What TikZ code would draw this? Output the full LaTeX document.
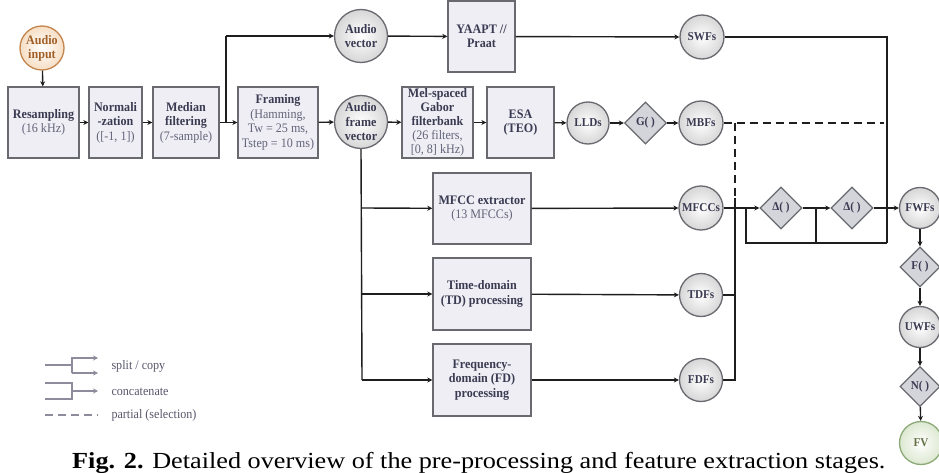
\documentclass[tikz,border=0pt]{standalone}
\usepackage{fontspec}
\setmainfont{Liberation Serif}
\newfontfamily\labfont[FakeStretch=0.93]{Liberation Serif}
\newfontfamily\capfont[FakeStretch=1.14]{Liberation Serif}
\usetikzlibrary{arrows.meta,shapes.geometric,shadows}
\definecolor{lblc}{RGB}{58,58,82}
\definecolor{subc}{RGB}{100,100,122}
\definecolor{edgec}{RGB}{105,105,112}
\definecolor{boxfill}{RGB}{238,238,244}
\definecolor{diafill}{RGB}{212,212,219}
\definecolor{linec}{RGB}{30,30,30}
\definecolor{legc}{RGB}{140,140,156}
\definecolor{orgedge}{RGB}{196,134,78}
\definecolor{orgfill}{RGB}{246,222,196}
\definecolor{orgtext}{RGB}{160,96,40}
\definecolor{grnedge}{RGB}{140,170,120}
\definecolor{grnfill}{RGB}{220,232,208}
\definecolor{grntext}{RGB}{100,115,70}
\newcommand\mysub[1]{{\mdseries\color{subc}#1}}
\tikzset{
  lab/.style={font=\labfont\bfseries\fontsize{13}{14.5}\selectfont, text=lblc, align=center},
  procbox/.style={lab, rectangle, draw=edgec, line width=1.4pt, fill=boxfill, inner sep=1pt,
     drop shadow={opacity=0.25, shadow xshift=1pt, shadow yshift=-1pt}},
  datac/.style={lab, circle, draw=edgec, line width=1.3pt, inner sep=0pt,
     inner color=white, outer color=gray!32, font=\labfont\bfseries\fontsize{12}{13}\selectfont},
  opdia/.style={lab, diamond, aspect=1, draw=edgec, line width=1.3pt, fill=diafill, inner sep=0pt,
     font=\labfont\bfseries\fontsize{12}{13}\selectfont},
  conn/.style={draw=linec, line width=1.4pt},
  arr/.style={conn, -{Stealth[length=5pt,width=5pt]}},
  legl/.style={draw=legc, line width=1.3pt},
  legarr/.style={legl, -{Stealth[length=5pt,width=5pt]}},
  legtext/.style={font=\labfont\fontsize{13}{14}\selectfont, text=lblc!85, anchor=west}
}
\begin{document}
\begin{tikzpicture}[x=1pt,y=1pt]
\useasboundingbox (0,0) rectangle (939,-473);
\fill[white] (0,0) rectangle (939,-473);

% input chain
\node[datac, minimum size=44pt, draw=orgedge, outer color=orgfill, text=orgtext, font=\labfont\bfseries\fontsize{13}{14}\selectfont] (ain) at (42,-48) {Audio\\input};
\node[procbox, minimum width=71pt, minimum height=71pt] (res) at (43.5,-122.5) {Resampling\\\mysub{(16 kHz)}};
\node[procbox, minimum width=53pt, minimum height=71pt] (norm) at (115.5,-122.5) {Normali\\-zation\\\mysub{([-1, 1])}};
\node[procbox, minimum width=66pt, minimum height=71pt] (med) at (186,-122.5) {Median\\filtering\\\mysub{(7-sample)}};
\node[procbox, minimum width=80pt, minimum height=71pt] (fram) at (278,-122.5) {Framing\\\mysub{(Hamming,}\\\mysub{Tw = 25 ms,}\\\mysub{Tstep = 10 ms)}};

% top branch
\node[datac, minimum size=53pt, font=\labfont\bfseries\fontsize{13}{14.5}\selectfont] (avec) at (361,-36) {Audio\\vector};
\node[procbox, minimum width=67pt, minimum height=71pt] (yaapt) at (481.5,-36.5) {YAAPT //\\Praat};
\node[datac, minimum size=44pt] (swfs) at (702,-37) {SWFs};

% middle row
\node[datac, minimum size=53pt, font=\labfont\bfseries\fontsize{13}{14.5}\selectfont] (afv) at (361,-122) {Audio\\frame\\vector};
\node[procbox, minimum width=71pt, minimum height=71pt, inner sep=0pt, font=\labfont\bfseries\fontsize{13}{14}\selectfont] (mel) at (437.5,-122.5) {Mel-spaced\\Gabor\\filterbank\\\mysub{(26 filters,}\\\mysub{[0, 8] kHz)}};
\node[procbox, minimum width=67pt, minimum height=71pt] (esa) at (520.5,-122.5) {ESA\\(TEO)};
\node[datac, minimum size=42pt] (llds) at (588,-123) {LLDs};
\node[opdia, minimum width=42pt, minimum height=42pt] (g) at (645.5,-123) {G( )};
\node[datac, minimum size=44pt] (mbfs) at (701,-123) {MBFs};

% lower rows
\node[procbox, minimum width=98pt, minimum height=71pt] (mfccx) at (482,-208.5) {MFCC extractor\\\mysub{(13 MFCCs)}};
\node[procbox, minimum width=98pt, minimum height=72pt] (td) at (482,-294) {Time-domain\\(TD) processing};
\node[procbox, minimum width=98pt, minimum height=72pt] (fd) at (482,-380) {Frequency-\\domain (FD)\\processing};
\node[datac, minimum size=44pt] (mfccs) at (701,-208) {MFCCs};
\node[datac, minimum size=43pt] (tdfs) at (701,-295) {TDFs};
\node[datac, minimum size=43pt] (fdfs) at (701,-380) {FDFs};

\node[opdia, minimum width=42pt, minimum height=42pt] (d1) at (781,-208) {Δ( )};
\node[opdia, minimum width=42pt, minimum height=42pt] (d2) at (852,-208) {Δ( )};

% right column
\node[datac, minimum size=41pt] (fwfs) at (920,-208) {FWFs};
\node[opdia, minimum width=40pt, minimum height=40pt] (f) at (920,-267) {F( )};
\node[datac, minimum size=41pt] (uwfs) at (920,-327) {UWFs};
\node[opdia, minimum width=40pt, minimum height=40pt] (n) at (920,-386.5) {N( )};
\node[datac, minimum size=43pt, draw=grnedge, outer color=grnfill, text=grntext] (fv) at (921,-443) {FV};

% coordinates for junctions
\coordinate (s1) at (226,-122.5);
\coordinate (s1t) at (226,-36);
\coordinate (vA) at (362,-208);
\coordinate (vB) at (362,-294);
\coordinate (vC) at (362,-380);
\coordinate (cTop) at (735,-198);
\coordinate (cTD) at (735,-295);
\coordinate (cFD) at (735,-380);
\coordinate (cDash) at (735,-123);
\coordinate (mbEnd) at (884,-123);
\coordinate (sp1) at (746,-208);
\coordinate (sp1b) at (746,-243);
\coordinate (sp2) at (816,-208);
\coordinate (sp2b) at (816,-243);
\coordinate (rTop) at (887,-37);
\coordinate (rBot) at (887,-243);

% connectors
\draw[arr] (ain) -- (res);
\draw[arr] (res) -- (norm);
\draw[arr] (norm) -- (med);
\draw[arr] (med) -- (fram);
\draw[conn] (s1) -- (s1t);
\draw[arr] (s1t) -- (avec);
\draw[arr] (avec) -- (yaapt);
\draw[arr] (yaapt) -- (swfs);
\draw[arr] (fram) -- (afv);
\draw[arr] (afv) -- (mel);
\draw[arr] (mel) -- (esa);
\draw[arr] (esa) -- (llds);
\draw[arr] (llds) -- (g);
\draw[arr] (g) -- (mbfs);

\draw[conn] (afv.south) -- (vC);
\draw[arr] (vA) -- (mfccx);
\draw[arr] (vB) -- (td);
\draw[arr] (vC) -- (fd);
\draw[arr] (mfccx) -- (mfccs);
\draw[arr] (td) -- (tdfs);
\draw[arr] (fd) -- (fdfs);

\draw[conn] (tdfs) -- (cTD);
\draw[conn] (fdfs.east) -- (cFD) -- (cTop);
\draw[conn, dashed, dash pattern=on 8pt off 5pt] (mbfs) -- (mbEnd);
\draw[conn, dashed, dash pattern=on 8pt off 5pt] (cDash) -- (cTop);

\draw[arr] (mfccs) -- (d1);
\draw[conn] (sp1) -- (sp1b) -- (rBot);
\draw[arr] (d1) -- (d2);
\draw[conn] (sp2) -- (sp2b);
\draw[arr] (d2) -- (fwfs);
\draw[conn] (swfs) -- (rTop) -- (rBot);

\draw[arr] (fwfs) -- (f);
\draw[arr] (f) -- (uwfs);
\draw[arr] (uwfs) -- (n);
\draw[arr] (n) -- (fv);

% legend
\coordinate (l1a) at (45,-365); \coordinate (l1j) at (72,-365);
\coordinate (l1t) at (72,-358); \coordinate (l1b) at (72,-373);
\coordinate (l1te) at (98,-358); \coordinate (l1be) at (98,-373);
\draw[legl] (l1a) -- (l1j);
\draw[legarr] (l1b) -- (l1t) -- (l1te);
\draw[legarr] (l1b) -- (l1be);
\node[legtext] (lt1) at (108,-366) {split / copy};

\coordinate (l2a) at (45,-383); \coordinate (l2b) at (45,-399);
\coordinate (l2ja) at (72,-383); \coordinate (l2jb) at (72,-399);
\coordinate (l2m) at (72,-391); \coordinate (l2e) at (98,-391);
\draw[legl] (l2a) -- (l2ja) -- (l2jb) -- (l2b);
\draw[legarr] (l2m) -- (l2e);
\node[legtext] (lt2) at (108,-392) {concatenate};

\coordinate (l3a) at (45,-415); \coordinate (l3b) at (98,-415);
\draw[legl, dashed, dash pattern=on 8pt off 5pt] (l3a) -- (l3b);
\node[legtext] (lt3) at (108,-415) {partial (selection)};

% caption
\node[anchor=base west, inner sep=0pt, font=\capfont\fontsize{23}{26}\selectfont] (cap) at (72,-468) {\textbf{Fig. 2.} Detailed overview of the pre-processing and feature extraction stages.};
\end{tikzpicture}
\end{document}
